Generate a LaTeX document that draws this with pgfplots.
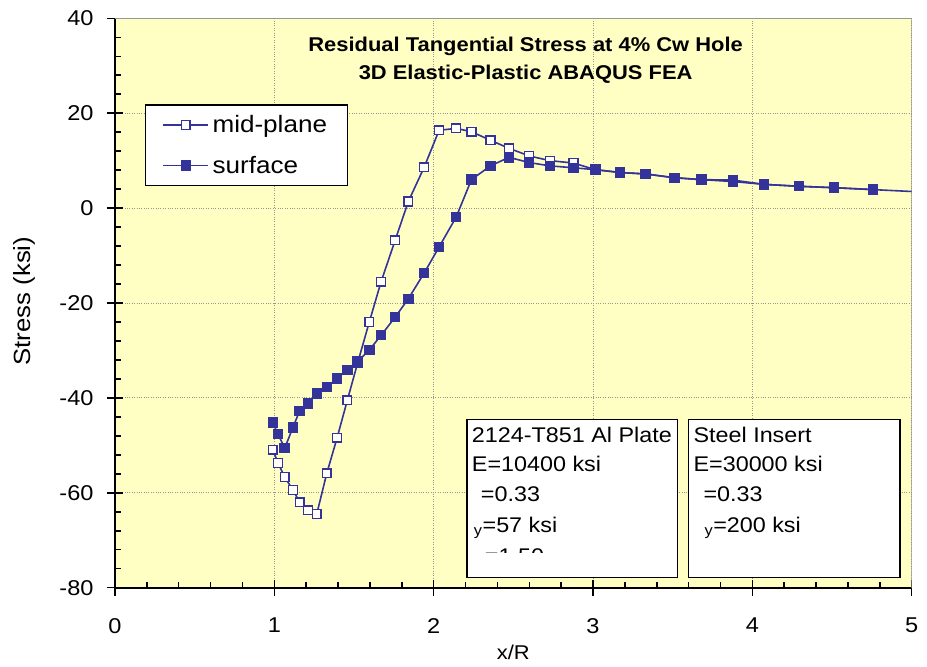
\documentclass[border=0pt]{standalone}
\usepackage{fontspec}
\setmainfont{Liberation Sans}[FakeStretch=1.1]
\usepackage{pgfplots}
\usepackage{pgfplotstable}
\pgfplotsset{compat=1.18}

\definecolor{plotbg}{RGB}{255,255,196}
\definecolor{series}{RGB}{51,51,153}
\definecolor{gridgray}{RGB}{150,150,150}

% residual tangential stress (ksi) versus normalised distance x/R
\pgfplotstableread{
x      mid    surf
0.990 -50.9  -45.2
1.023 -53.7  -47.6
1.065 -56.7  -50.6
1.117 -59.4  -46.2
1.159 -62.0  -42.7
1.212 -63.7  -41.2
1.266 -64.5  -39.1
1.329 -55.9  -37.7
1.394 -48.4  -35.9
1.458 -40.5  -34.1
1.523 -32.6  -32.3
1.596 -24.0  -29.9
1.670 -15.5  -26.8
1.758  -6.8  -23.0
1.841   1.4  -19.1
1.940   8.6  -13.7
2.034  16.4   -8.2
2.141  16.8   -1.9
2.237  16.1    6.0
2.356  14.3    8.9
2.473  12.6   10.7
2.599  11.0    9.6
2.729  10.0    8.9
2.877   9.5    8.5
3.015   8.1    8.1
3.170   7.5    7.5
3.329   7.2    7.2
3.511   6.4    6.4
3.680   6.0    6.0
3.878   5.9    5.6
4.074   5.0    5.0
4.292   4.6    4.6
4.512   4.3    4.3
4.756   3.9    3.9
}\stressdata

% unmarked tail of both curves out to the plate edge
\pgfplotstableread{
x      y
4.756  3.9
5.000  3.5
}\taildata

\newcommand{\boxfont}{\fontsize{21.3}{25}\selectfont}

\begin{document}
\begin{tikzpicture}
\useasboundingbox (-115bp,-79.3bp) rectangle (812bp,587.7bp);
\begin{axis}[
  at={(0,0)}, anchor=south west,
  scale only axis, width=796.7bp, height=569.4bp,
  xmin=0, xmax=5, ymin=-80, ymax=40,
  xtick={0,1,2,3,4,5}, xticklabels={0,1,2,3,4,5},
  ytick={-80,-60,-40,-20,0,20,40},
  yticklabels={-80,-60,-40,-20,0,20,40},
  minor x tick num=4, minor y tick num=4,
  axis x line*=bottom, axis y line*=left,
  axis line style={line width=1.8bp, black},
  tick align=inside, major tick length=8bp, minor tick length=6bp,
  tick style={line width=1.5bp, black},
  extra x ticks={0,1,2,3,4,5}, extra x tick labels={,,,,,},
  extra x tick style={tick align=outside, grid=none},
  extra y ticks={-80,-60,-40,-20,0,20,40}, extra y tick labels={,,,,,,},
  extra y tick style={tick align=outside, grid=none},
  grid=major,
  major grid style={dotted, gridgray, line width=0.9bp},
  axis background/.style={fill=plotbg},
  ticklabel style={font=\fontsize{21.5}{25}\selectfont},
  xticklabel style={yshift=-27bp},
  yticklabel style={xshift=-18bp},
  xlabel={x/R}, ylabel={Stress (ksi)},
  every axis x label/.style={at={(axis cs:2.5,-93.6)}, anchor=center,
    font=\fontsize{20}{24}\selectfont},
  every axis y label/.style={at={(axis cs:-0.571,-19.6)}, rotate=90,
    anchor=center, font=\fontsize{23.5}{28}\selectfont},
  legend style={at={(axis cs:0.186,21.9)}, anchor=north west,
    draw=black, line width=1.6bp, fill=white,
    font=\fontsize{23.8}{28}\selectfont,
    inner xsep=17bp, inner ysep=7bp, nodes={inner sep=3.5bp},
    row sep=15bp, cells={anchor=west}},
  legend image code/.code={\draw[mark repeat=2,mark phase=2,#1]
    plot coordinates {(0bp,0bp) (22.5bp,0bp) (45bp,0bp)};},
]

% plot frame: grey on the top and right sides
\draw[gridgray, line width=1.5bp] (rel axis cs:0,1) -- (rel axis cs:1,1) -- (rel axis cs:1,0);

\addplot[color=series, line width=1.6bp, mark=square*, mark size=4.4bp,
  mark options={fill=white, line width=1.4bp}]
  table[x=x, y=mid] {\stressdata};
\addlegendentry{mid-plane}

\addplot[color=series, line width=1.6bp, mark=square*, mark size=4.6bp,
  mark options={fill=series, line width=1.2bp}]
  table[x=x, y=surf] {\stressdata};
\addlegendentry{surface}

\addplot[color=series, line width=1.6bp, forget plot] table[x=x, y=y] {\taildata};

% chart title
\node[anchor=base, font=\bfseries\fontsize{20}{24}\selectfont]
  at (axis cs:2.577,32.9) {Residual Tangential Stress at 4\% Cw Hole};
\node[anchor=base, font=\bfseries\fontsize{20}{24}\selectfont]
  at (axis cs:2.577,27.0) {3D Elastic-Plastic ABAQUS FEA};

% material property boxes
\draw[black, line width=1.5bp, fill=white]
  (axis cs:2.208,-44.6) rectangle (axis cs:3.530,-77.8);
\draw[black, line width=1.5bp, fill=white]
  (axis cs:3.599,-44.6) rectangle (axis cs:4.928,-77.8);

\node[anchor=base west, inner sep=0pt, font=\boxfont] at (axis cs:2.239,-49.5) {2124-T851 Al Plate};
\node[anchor=base west, inner sep=0pt, font=\boxfont] at (axis cs:2.239,-55.5) {E=10400 ksi};
\node[anchor=base west, inner sep=0pt, font=\boxfont] at (axis cs:2.239,-61.8) {\hspace{9bp}=0.33};
\node[anchor=base west, inner sep=0pt, font=\boxfont] at (axis cs:2.239,-68.4) {\hspace{2bp}\textsubscript{y}=57 ksi};
\begin{scope}
  \clip (axis cs:2.22,-45) rectangle (axis cs:3.52,-72.6);
  \node[anchor=base west, inner sep=0pt, font=\boxfont] at (axis cs:2.239,-74.8) {\hspace{13bp}=1.50};
\end{scope}

\node[anchor=base west, inner sep=0pt, font=\boxfont] at (axis cs:3.630,-49.5) {Steel Insert};
\node[anchor=base west, inner sep=0pt, font=\boxfont] at (axis cs:3.630,-55.5) {E=30000 ksi};
\node[anchor=base west, inner sep=0pt, font=\boxfont] at (axis cs:3.630,-61.8) {\hspace{10bp}=0.33};
\node[anchor=base west, inner sep=0pt, font=\boxfont] at (axis cs:3.630,-68.4) {\hspace{11bp}\textsubscript{y}=200 ksi};

\end{axis}
\end{tikzpicture}
\end{document}
